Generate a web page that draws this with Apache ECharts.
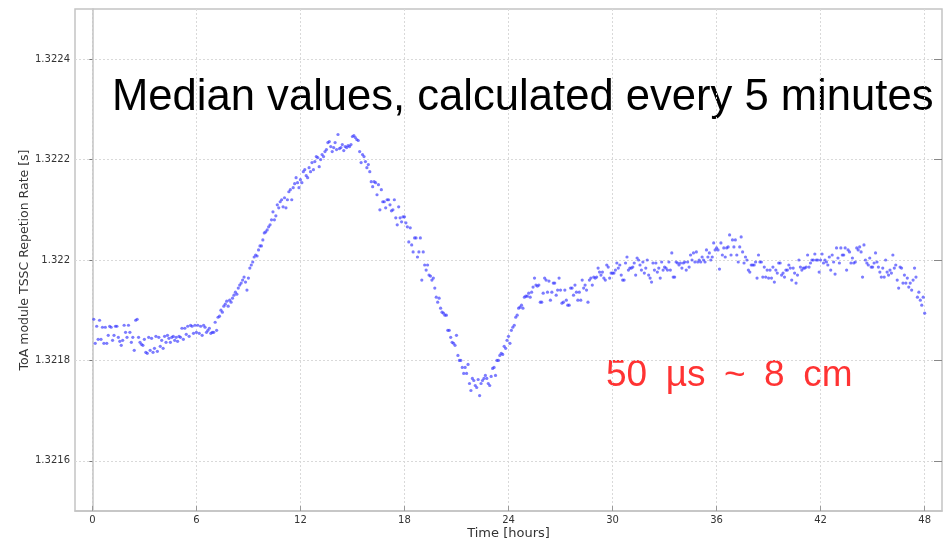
<!DOCTYPE html>
<html>
<head>
<meta charset="utf-8">
<script src="https://cdn.jsdelivr.net/npm/echarts@6/dist/echarts.min.js"></script>
<style>html,body{margin:0;padding:0;background:#fff}#c{width:944px;height:541px}</style>
</head>
<body>
<div id="c"></div>
<script>
// Median ToA module TSSC repetition rate [s], one value every 5 minutes (12 per hour)
const hours00to06 = [
1.321882,1.321834,1.321868,1.321842,1.321880,1.321842,1.321866,1.321834,1.321866,1.321834,1.321850,1.321868,
1.321866,1.321840,1.321850,1.321868,1.321868,1.321846,1.321838,1.321830,1.321840,1.321870,1.321856,1.321846,
1.321870,1.321856,1.321836,1.321846,1.321820,1.321880,1.321882,1.321846,1.321836,1.321832,1.321830,1.321842,
1.321816,1.321814,1.321846,1.321820,1.321844,1.321816,1.321824,1.321848,1.321818,1.321846,1.321828,1.321840,
1.321824,1.321848,1.321836,1.321850,1.321844,1.321836,1.321846,1.321848,1.321840,1.321846,1.321838,1.321848,
1.321846,1.321864,1.321842,1.321864,1.321852,1.321868,1.321848,1.321870,1.321868,1.321854,1.321870,1.321856
];
const hours06to12 = [
1.321870,1.321854,1.321868,1.321850,1.321870,1.321866,1.321856,1.321860,1.321864,1.321854,1.321856,1.321856,
1.321876,1.321860,1.321886,1.321888,1.321900,1.321896,1.321908,1.321912,1.321918,1.321908,1.321920,1.321916,
1.321924,1.321930,1.321936,1.321932,1.321944,1.321950,1.321954,1.321960,1.321966,1.321956,1.321940,1.321964,
1.321984,1.321990,1.321996,1.322006,1.322010,1.322008,1.322020,1.322028,1.322028,1.322040,1.322054,1.322056,
1.322060,1.322066,1.322070,1.322080,1.322096,1.322080,1.322088,1.322110,1.322104,1.322116,1.322120,1.322106,
1.322124,1.322104,1.322120,1.322136,1.322140,1.322120,1.322144,1.322152,1.322164,1.322154,1.322144,1.322160
];
const hours12to18 = [
1.322154,1.322176,1.322180,1.322168,1.322164,1.322184,1.322176,1.322194,1.322180,1.322196,1.322206,1.322204,
1.322186,1.322200,1.322210,1.322206,1.322216,1.322220,1.322234,1.322236,1.322226,1.322216,1.322224,1.322234,
1.322220,1.322250,1.322222,1.322224,1.322230,1.322218,1.322226,1.322224,1.322228,1.322226,1.322230,1.322246,
1.322248,1.322244,1.322240,1.322238,1.322216,1.322194,1.322210,1.322206,1.322196,1.322184,1.322190,1.322176,
1.322156,1.322146,1.322156,1.322154,1.322130,1.322150,1.322100,1.322140,1.322116,1.322116,1.322104,1.322120,
1.322120,1.322110,1.322098,1.322100,1.322120,1.322084,1.322070,1.322106,1.322084,1.322076,1.322086,1.322086
];
const hours18to24 = [
1.322074,1.322066,1.322036,1.322064,1.322030,1.322016,1.322044,1.322044,1.322006,1.322016,1.322044,1.321960,
1.322016,1.321990,1.321980,1.321990,1.321970,1.321968,1.321960,1.321964,1.321944,1.321926,1.321916,1.321924,
1.321904,1.321896,1.321894,1.321890,1.321890,1.321860,1.321860,1.321846,1.321836,1.321834,1.321830,1.321850,
1.321810,1.321800,1.321800,1.321786,1.321774,1.321786,1.321774,1.321792,1.321754,1.321740,1.321764,1.321760,
1.321750,1.321746,1.321762,1.321730,1.321754,1.321760,1.321764,1.321770,1.321764,1.321754,1.321750,1.321768,
1.321784,1.321786,1.321770,1.321800,1.321800,1.321810,1.321814,1.321812,1.321828,1.321824,1.321840,1.321848
];
const hours24to30 = [
1.321834,1.321860,1.321866,1.321870,1.321886,1.321890,1.321904,1.321906,1.321910,1.321904,1.321926,1.321928,
1.321928,1.321934,1.321926,1.321936,1.321946,1.321964,1.321950,1.321948,1.321950,1.321916,1.321916,1.321934,
1.321964,1.321960,1.321936,1.321958,1.321920,1.321936,1.321954,1.321954,1.321930,1.321940,1.321964,1.321940,
1.321914,1.321916,1.321940,1.321920,1.321910,1.321910,1.321944,1.321944,1.321930,1.321950,1.321936,1.321920,
1.321936,1.321920,1.321960,1.321944,1.321950,1.321940,1.321916,1.321960,1.321964,1.321950,1.321966,1.321964,
1.321966,1.321984,1.321976,1.321970,1.321976,1.321964,1.321960,1.321990,1.321986,1.321964,1.321974,1.321974
];
const hours30to36 = [
1.321974,1.321980,1.321994,1.321984,1.321990,1.321970,1.321960,1.321960,1.321994,1.322006,1.321980,1.321984,
1.321984,1.321986,1.321994,1.321970,1.322004,1.322000,1.321990,1.321980,1.321996,1.321974,1.321984,1.322000,
1.321970,1.321964,1.321956,1.321994,1.321980,1.321994,1.321976,1.321984,1.321964,1.321996,1.321980,1.321986,
1.321984,1.321980,1.321996,1.321980,1.322014,1.321966,1.321966,1.321996,1.321994,1.321990,1.321994,1.321984,
1.321994,1.321996,1.321980,1.321996,1.321986,1.322010,1.322000,1.322014,1.321996,1.322016,1.321996,1.322000,
1.321996,1.322006,1.322000,1.321996,1.322020,1.322006,1.322014,1.322000,1.322006,1.322034,1.322020,1.322024
];
const hours36to42 = [
1.322020,1.321982,1.322034,1.322010,1.322024,1.322006,1.322024,1.322026,1.322050,1.322010,1.322040,1.322026,
1.322040,1.322010,1.321996,1.322026,1.322046,1.322016,1.321994,1.322006,1.322000,1.321980,1.321976,1.321990,
1.321990,1.321990,1.321996,1.321964,1.322010,1.321996,1.321996,1.321966,1.321986,1.321966,1.321980,1.321964,
1.321980,1.321964,1.321986,1.321956,1.321980,1.321974,1.321994,1.321994,1.321970,1.321974,1.321966,1.321980,
1.321980,1.321990,1.321984,1.321960,1.321984,1.321974,1.321954,1.321970,1.322000,1.321986,1.321980,1.321984,
1.321984,1.321986,1.322010,1.321986,1.321994,1.322000,1.322000,1.322012,1.322000,1.322000,1.321976,1.322000
];
const hours42to48 = [
1.322012,1.321994,1.322000,1.321996,1.321990,1.322006,1.321980,1.322010,1.321996,1.321972,1.322024,1.322004,
1.321994,1.322024,1.322010,1.322010,1.322024,1.321980,1.322020,1.322016,1.321994,1.322004,1.321994,1.321996,
1.322024,1.322020,1.322026,1.322016,1.321966,1.322030,1.322000,1.321994,1.321990,1.322004,1.321986,1.321986,
1.321994,1.322014,1.321996,1.321986,1.321976,1.321966,1.321984,1.321966,1.322000,1.321976,1.321970,1.321980,
1.321974,1.322010,1.321984,1.321990,1.321960,1.321944,1.321986,1.321984,1.321954,1.321970,1.321954,1.321964,
1.321946,1.321954,1.321940,1.321960,1.321984,1.321966,1.321926,1.321936,1.321920,1.321910,1.321926,1.321894
];
const sampleMinutes = 5;
const xTicks = [0, 6, 12, 18, 24, 30, 36, 42, 48];
const yTicks = [1.3216, 1.3218, 1.322, 1.3222, 1.3224];
const titleText = 'Median values, calculated every 5 minutes';
const noteText = '50\u2002µs\u2002~\u20028\u2002cm';
const xName = 'Time [hours]';
const yName = 'ToA module TSSC Repetion Rate [s]';

const allValues = [].concat(hours00to06, hours06to12, hours12to18, hours18to24,
                            hours24to30, hours30to36, hours36to42, hours42to48);
const points = allValues.map((v, i) => [(i + 1) * sampleMinutes / 60, v]);

const chart = echarts.init(document.getElementById('c'), null, {renderer: 'canvas'});
const gridLine = {show: true, lineStyle: {color: '#d9d9d9', type: [2, 2], width: 1}};
const labelFont = {fontFamily: 'DejaVu Sans', fontSize: 10, color: '#333'};
chart.setOption({
  animation: false,
  backgroundColor: '#fff',
  grid: {left: 75, right: 2, top: 9, bottom: 30, show: true, borderColor: '#c4c4c4', borderWidth: 1.5,
         containLabel: false, outerBoundsMode: 'none'},
  xAxis: {
    type: 'value', min: -1, max: 49,
    name: xName, nameLocation: 'middle', nameGap: 16, nameMoveOverlap: false,
    nameTextStyle: {fontFamily: 'DejaVu Sans', fontSize: 13, color: '#333'},
    axisLine: {show: true, lineStyle: {color: '#c4c4c4', width: 1.5}},
    axisTick: {show: true, inside: true, length: 5, lineStyle: {color: '#999'}, customValues: xTicks},
    axisLabel: Object.assign({margin: 4, customValues: xTicks}, labelFont),
    splitLine: gridLine
  },
  yAxis: [{
    type: 'value', min: 1.3215, max: 1.3225,
    name: yName, nameLocation: 'middle', nameGap: 44, nameRotate: 90, nameMoveOverlap: false,
    nameTextStyle: {fontFamily: 'DejaVu Sans', fontSize: 12.5, color: '#333'},
    axisLine: {show: true, lineStyle: {color: '#c4c4c4', width: 1.5}},
    axisTick: {show: true, inside: false, length: 3, lineStyle: {color: '#777'}, customValues: yTicks},
    axisLabel: Object.assign({margin: 5, customValues: yTicks, formatter: v => String(+v.toFixed(4))}, labelFont),
    splitLine: gridLine
  }, {
    type: 'value', min: 1.3215, max: 1.3225, position: 'right',
    axisLine: {show: false},
    axisTick: {show: true, inside: true, length: 8, lineStyle: {color: '#888'}, customValues: yTicks},
    axisLabel: {show: false},
    splitLine: {show: false}
  }],
  series: [{
    type: 'scatter',
    data: points,
    symbol: 'circle',
    symbolSize: 3.2,
    itemStyle: {color: 'rgba(50,50,255,0.8)'},
    silent: true
  }],
  graphic: [
    {type: 'text', left: 112, top: 76, style: {text: titleText, font: '43.6px "Liberation Sans", Arial, sans-serif', fill: '#000'}},
    {type: 'text', left: 606, top: 357, style: {text: noteText, font: '37px "Liberation Sans", Arial, sans-serif', fill: '#ff3333'}}
  ]
});
</script>
</body>
</html>
